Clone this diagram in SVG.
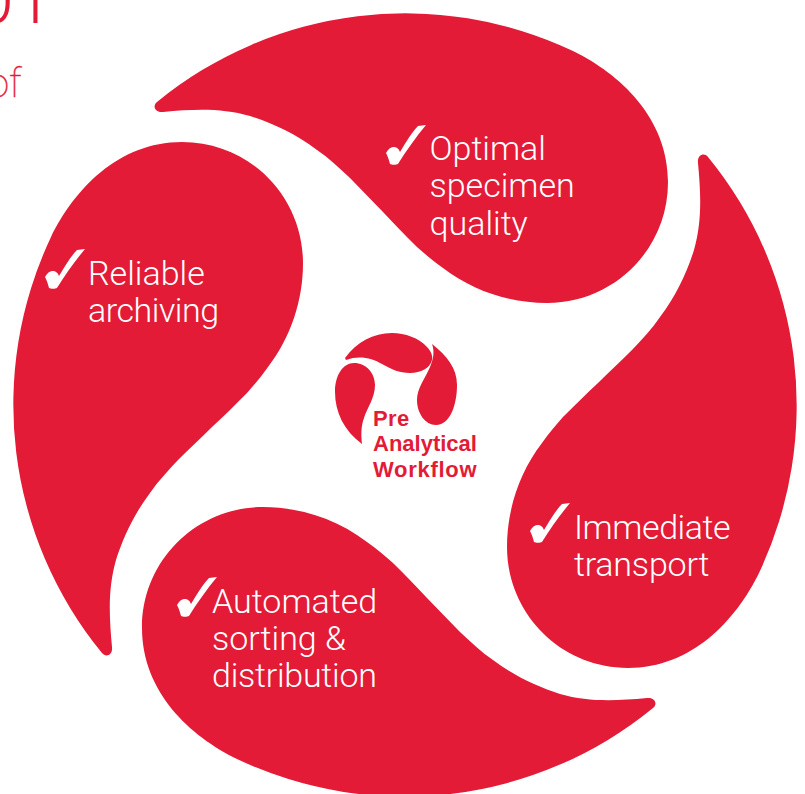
<svg xmlns="http://www.w3.org/2000/svg" width="805" height="794" viewBox="0 0 805 794">
<style>
.p{fill:#e31b37}
.t{font-family:Roboto,"Liberation Sans",sans-serif;font-weight:300;font-size:34px;fill:#fff}
.c{fill:#fff}
.l{font-family:"Liberation Sans",Arial,sans-serif;font-weight:700;font-size:22px;fill:#e31b37}
.h{font-family:Roboto,"Liberation Sans",sans-serif;fill:#e31b37}
</style>
<defs>
<path id="petal" d="M157 102A392 392 0 0 1 573 51C620 74 668 118 668 182C668 250 613 303 547 303C510 303 473 291 443 268C433 261 425 254 417 247C405 235 394 224 383 212C372 201 361 189 350 178C339 168 329 158 317 150C296 134 272 123 250 116C222 108 195 109 163 112C155 113 152 106 157 102Z"/>
<path id="check" d="M386 153C388 149 391 147 393 147C397 147 399 149 400 152C406 142 412 132 418 126L426 125C416 137 406 151 398 164C396 165 392 165 390 164C389 160 388 157 386 153Z"/>
</defs>
<g id="heading"><text class="h" font-weight="300" x="-25" y="23" font-size="70">01</text><text class="h" font-weight="100" stroke="#e31b37" stroke-width=".4" x="-13" y="97" font-size="40">of</text></g>
<g id="connectors"></g>
<g id="node-quality"><use href="#petal" class="p"/><use href="#check" class="c"/>
<text class="t"><tspan x="429.500" y="160">Optimal</tspan><tspan x="429.500" y="197">specimen</tspan><tspan x="429.500" y="235">quality</tspan></text></g>
<g id="node-transport"><use href="#petal" class="p" transform="rotate(90 405 405)"/><use href="#check" class="c" transform="translate(144 378)"/>
<text class="t"><tspan x="574" y="539" letter-spacing="-.45">Immediate</tspan><tspan x="574" y="576" letter-spacing="-.2">transport</tspan></text></g>
<g id="node-sorting"><use href="#petal" class="p" transform="rotate(180 405 405)"/><use href="#check" class="c" transform="translate(-209 452)"/>
<text class="t"><tspan x="212" y="613">Automated</tspan><tspan x="212" y="650">sorting &amp;</tspan><tspan x="212" y="687" letter-spacing="-.25">distribution</tspan></text></g>
<g id="node-archiving"><use href="#petal" class="p" transform="rotate(270 405 405)"/><use href="#check" class="c" transform="translate(-341 124)"/>
<text class="t"><tspan x="88" y="285">Reliable</tspan><tspan x="88" y="322" letter-spacing="-.45">archiving</tspan></text></g>
<g id="logo">
<path class="p" d="M345 358C357 342 373 333 392 333C405 333 419 338 427 347C431 351 433 356 432 360C430 368 421 373 410 373C399 373 391 369 382 364C372 358 359 355 346 360Z"/>
<path class="p" d="M432 344C447 356 457 368 457 385C457 403 451 425 436 425C425 425 417 413 417 400C417 388 425 379 430 367C433 360 435 352 432 344Z"/>
<path class="p" d="M362 444C344 431 335 412 335 392C335 375 343 363 354 363C366 363 375 373 375 385C375 398 367 408 364 418C361 426 361 435 362 444Z"/>
<text class="l"><tspan x="373" y="426" letter-spacing=".4">Pre</tspan><tspan x="373" y="451">Analytical</tspan><tspan x="373" y="477" letter-spacing=".7">Workflow</tspan></text>
</g>
</svg>
